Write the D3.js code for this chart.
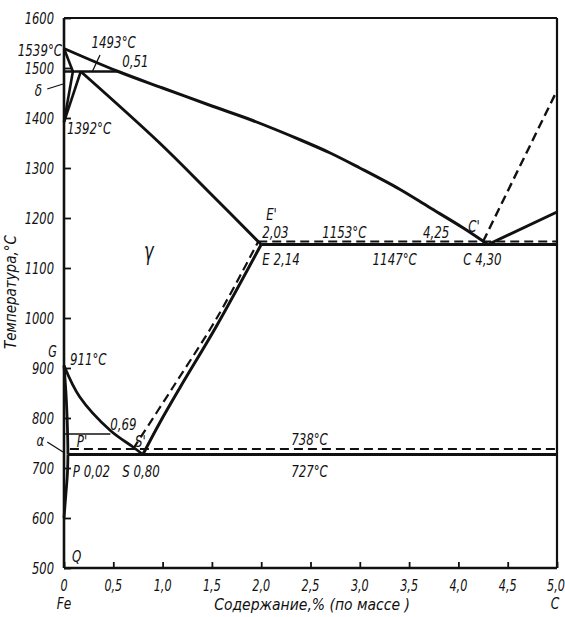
<!DOCTYPE html>
<html><head><meta charset="utf-8">
<script src="https://cdn.jsdelivr.net/npm/d3@7"></script>
<style>
html,body{margin:0;padding:0;background:#fff;}
text{font-family:"DejaVu Sans Condensed","DejaVu Sans",sans-serif;font-style:italic;fill:#111;}
</style></head>
<body><svg id="c" width="565" height="617"></svg>
<script>
// ---- tick values / labels ----
const xTicks = [0,0.5,1,1.5,2,2.5,3,3.5,4,4.5,5];
const xTickLabels = ["0","0,5","1,0","1,5","2,0","2,5","3,0","3,5","4,0","4,5","5,0"];
const yTicks = [500,600,700,800,900,1000,1100,1200,1300,1400,1500,1600];
const yTickLabels = ["500","600","700","800","900","1000","1100","1200","1300","1400","1500","1600"];

// ---- phase lines (carbon %, temperature °C) ----
const liquidusABC = [[0,1539],[0.55,1493],[1.0,1460],[1.5,1424],[1.9,1396],[2.4,1356],[2.7,1330],[3.0,1300],[3.4,1258],[3.7,1222],[4.05,1180],[4.3,1147]];
const liquidusCD = [[4.3,1147],[5.0,1212]];
const liquidusCDgraphite = [[4.25,1153],[5.0,1455]];
const peritecticHJB = [[0,1493],[0.55,1493]];
const deltaAH = [[0,1539],[0.09,1493]];
const deltaHN = [[0.09,1493],[0,1392]];
const deltaJN = [[0.17,1493],[0,1392]];
const solidusJE = [[0.17,1493],[0.97,1350],[1.48,1250],[2.0,1147]];
const eutecticECF = [[2.0,1147],[5.0,1147]];
const eutecticGraphite = [[1.97,1153],[5.0,1153]];
const lineES = [[0.8,727],[0.97,790],[1.18,862],[1.55,985],[2.0,1147]];
const lineESgraphite = [[0.7,738],[1.1,860],[1.55,1000],[1.97,1153]];
const lineGS = [[0,905],[0.16,842],[0.47,775],[0.7,742],[0.8,727]];
const lineGP = [[0,905],[0.02,850],[0.035,780],[0.04,727]];
const linePQ = [[0.04,727],[0.035,690],[0.02,650],[0.008,620],[0,600]];
const lineMO = [[0,768],[0.47,768]];
const eutectoidPSK = [[0.04,727],[5.0,727]];
const eutectoidGraphite = [[0.06,738],[5.0,738]];

// ---- annotation texts ----
const labelTexts = ["1539°C","1493°C","0,51","δ","1392°C","γ","E'","2,03","1153°C","4,25","C'","E 2,14","1147°C","C 4,30","G","911°C","0,69","P'","S'","738°C","α","P 0,02","S 0,80","727°C","Q"];
const labelX = [-0.02,0.28,0.59,-0.26,0.03,0.86,2.05,2.01,2.62,3.64,4.10,2.01,3.13,4.05,-0.16,0.06,0.47,0.13,0.72,2.49,-0.24,0.09,0.59,2.49,0.08];
const labelT = [1524,1540,1502,1444,1368,1116,1196,1160,1160,1160,1172,1106,1106,1106,922,906,776,742,742,746,744,682,682,682,512];
const leaders = [ [[0.365,1526],[0.29,1494]], [[-0.17,1458],[-0.01,1468]], [[-0.17,752],[-0.01,732]] ];

const svg = d3.select("#c");
const x = d3.scaleLinear().domain([0,5]).range([64,557]);
const y = d3.scaleLinear().domain([500,1600]).range([568,18]);

function txt(px, py, s, size, anchor, sx){
  return svg.append("text").attr("transform",`translate(${px},${py}) scale(${sx},1)`)
    .attr("text-anchor",anchor).attr("font-size",size).text(s);
}

// frame
const fr = svg.append("g").attr("stroke","#111").attr("fill","none");
fr.append("line").attr("x1",x(0)).attr("x2",x(0)).attr("y1",y(1600)).attr("y2",y(500)).attr("stroke-width",2.6);
fr.append("line").attr("x1",x(0)).attr("x2",x(5)).attr("y1",y(500)).attr("y2",y(500)).attr("stroke-width",2.4);
fr.append("line").attr("x1",x(0)).attr("x2",x(5)).attr("y1",y(1600)).attr("y2",y(1600)).attr("stroke-width",2);
fr.append("line").attr("x1",x(5)).attr("x2",x(5)).attr("y1",y(1600)).attr("y2",y(500)).attr("stroke-width",2.2);

// axes (tick marks via d3 axes, labels placed with the same scales)
const ya = svg.append("g").attr("transform",`translate(${x(0)},0)`)
  .call(d3.axisLeft(y).tickValues(yTicks).tickSize(-7).tickFormat(""));
const xa = svg.append("g").attr("transform",`translate(0,${y(500)})`)
  .call(d3.axisBottom(x).tickValues(xTicks).tickSize(-6).tickFormat(""));
[ya,xa].forEach(g=>{
  g.select(".domain").remove();
  g.selectAll(".tick line").attr("stroke","#111").attr("stroke-width",1.8);
  g.selectAll(".tick text").remove();
});
yTicks.forEach((v,i)=> txt(x(0)-10, y(v)+6, yTickLabels[i], 16, "end", 0.8));
xTicks.forEach((v,i)=> txt(x(v) - (i===xTicks.length-1?1:0), y(500)+23, xTickLabels[i], 16, "middle", 0.78));

const line = d3.line().x(d=>x(d[0])).y(d=>y(d[1]));
const curve = d3.line().x(d=>x(d[0])).y(d=>y(d[1])).curve(d3.curveCatmullRom.alpha(0.5));

function draw(data, gen, w, dash){
  svg.append("path").datum(data).attr("d",gen).attr("fill","none").attr("stroke","#111")
    .attr("stroke-width",w).attr("stroke-linejoin","round").attr("stroke-linecap","butt")
    .attr("stroke-dasharray",dash||null);
}
const D = "9,5";
draw(liquidusABC, curve, 3);
draw(liquidusCD, line, 3);
draw(liquidusCDgraphite, line, 2.4, D);
draw(peritecticHJB, line, 2.6);
draw(deltaAH, line, 2.6);
draw(deltaHN, line, 2.6);
draw(deltaJN, line, 2.6);
draw(solidusJE, curve, 3);
draw(eutecticECF, line, 3.2);
draw(eutecticGraphite, line, 2, D);
draw(lineES, curve, 3);
draw(lineESgraphite, curve, 2.2, D);
draw(lineGS, curve, 2.8);
draw(lineGP, curve, 2.8);
draw(linePQ, curve, 2.8);
draw(lineMO, line, 1.3);
draw(eutectoidPSK, line, 3);
draw(eutectoidGraphite, line, 2, D);

leaders.forEach(l=>draw(l, line, 1.3));

// annotations
const centered = new Set(["δ","γ","738°C","727°C","α"]);
labelTexts.forEach((t,i)=>{
  txt(x(labelX[i]), y(labelT[i]), t, t==="γ"?24:(t==="G"?15:16),
      i===0?"end":(centered.has(t)?"middle":"start"), t==="γ"?0.75:0.82);
});

// axis titles
txt(x(0), 609, "Fe", 16, "middle", 0.85);
txt(x(5)-2, 609, "C", 16, "middle", 0.85);
txt(312, 610, "Содержание,% (по массе )", 15.5, "middle", 1);
svg.append("text").attr("transform","translate(16,292) rotate(-90)").attr("text-anchor","middle").attr("font-size",15).text("Температура,°C");
</script></body></html>
